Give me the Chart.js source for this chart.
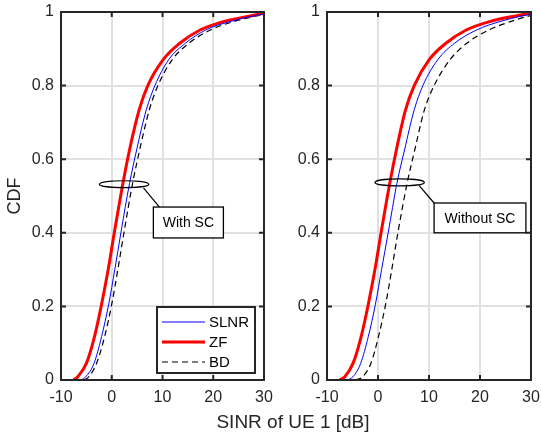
<!DOCTYPE html>
<html><head><meta charset="utf-8">
<script src="https://cdn.jsdelivr.net/npm/chart.js@4.4.0/dist/chart.umd.min.js"></script>
<style>
html,body{margin:0;padding:0;background:#fff;}
#wrap{position:relative;width:541px;height:438px;overflow:hidden;font-family:"Liberation Sans",Arial,sans-serif;}
canvas{position:absolute;top:0;}
#c1{left:0;}
#c2{left:270px;}
#xl{position:absolute;left:143px;width:300px;top:411px;text-align:center;font-size:19px;line-height:22px;color:#262626;}
</style></head>
<body>
<div id="wrap">
<canvas id="c1" width="292" height="438"></canvas>
<canvas id="c2" width="271" height="438"></canvas>
<div id="xl">SINR of UE 1 [dB]</div>
</div>
<script>
// ---- data ----
const cdfLevels = [0, 0.009, 0.045, 0.118, 0.206, 0.3, 0.4, 0.534, 0.625, 0.734, 0.8, 0.87, 0.915, 0.951, 0.974, 0.99, 0.997];
const seriesNames = ['SLNR', 'ZF', 'BD'];
// SINR [dB] of UE 1 at each CDF level, with SC
const withSC_SLNR = [-6.0, -5.1, -3.5, -2.0, -0.6, 0.6, 1.8, 3.5, 4.9, 6.8, 8.5, 11.2, 14.5, 18.5, 23.3, 28.2, 31];
const withSC_ZF   = [-7.5, -6.7, -5.0, -3.4, -2.0, -0.7, 0.5, 2.2, 3.5, 5.4, 7.1, 10.1, 13.4, 17.4, 22.0, 27.5, 30];
const withSC_BD   = [-5.4, -4.5, -3.0, -1.4, 0.0, 1.2, 2.4, 4.1, 5.5, 7.4, 9.1, 11.9, 15.2, 19.4, 24.0, 28.8, 32];
// without SC
const noSC_SLNR = [-6.0, -4.9, -3.4, -1.9, -0.5, 0.7, 2.0, 3.7, 5.2, 7.1, 8.8, 11.7, 15.0, 19.3, 23.9, 28.5, 31];
const noSC_ZF   = [-7.5, -6.5, -4.9, -3.3, -1.9, -0.6, 0.6, 2.3, 3.6, 5.4, 7.1, 10.0, 13.3, 17.3, 21.9, 27.2, 30];
const noSC_BD   = [-4.4, -3.0, -1.4, 0.1, 1.5, 2.7, 3.9, 5.7, 7.2, 9.1, 11.0, 14.1, 17.4, 21.7, 26.0, 30.0, 34];
const xTicks = [-10, 0, 10, 20, 30];
const xTickLabels = ['-10', '0', '10', '20', '30'];
const yTicks = [0, 0.2, 0.4, 0.6, 0.8, 1];
const yTickLabels = ['0', '0.2', '0.4', '0.6', '0.8', '1'];
const yTitle = 'CDF';
const noteLeft = 'With SC';
const noteRight = 'Without SC';

// ---- styles ----
const FONT = '"Liberation Sans", Arial, sans-serif';
const AX = '#262626';
const styles = [
  {borderColor:'#0000ff', borderWidth:1, borderDash:[]},
  {borderColor:'#ff0000', borderWidth:3, borderDash:[]},
  {borderColor:'#000000', borderWidth:1.2, borderDash:[6,4]}
];

function mkDatasets(arrs){
  return arrs.map((xs,k)=>Object.assign({
    label: seriesNames[k],
    data: xs.map((x,i)=>({x:x, y:cdfLevels[i]})),
    pointRadius:0, fill:false, cubicInterpolationMode:'monotone'
  }, styles[k]));
}

const framePlugin = {
  id:'frame',
  afterDatasetsDraw(chart){
    const {ctx, chartArea:ca, scales} = chart;
    ctx.save();
    ctx.strokeStyle = AX; ctx.lineWidth = 2;
    ctx.strokeRect(ca.left, ca.top, ca.right-ca.left, ca.bottom-ca.top);
    ctx.beginPath();
    xTicks.forEach(v=>{
      const p = scales.x.getPixelForValue(v);
      ctx.moveTo(p, ca.bottom); ctx.lineTo(p, ca.bottom-5);
      ctx.moveTo(p, ca.top); ctx.lineTo(p, ca.top+5);
    });
    yTicks.forEach(v=>{
      const p = scales.y.getPixelForValue(v);
      ctx.moveTo(ca.left, p); ctx.lineTo(ca.left+5, p);
      ctx.moveTo(ca.right, p); ctx.lineTo(ca.right-5, p);
    });
    ctx.stroke();
    ctx.restore();
  }
};

const notePlugin = {
  id:'note',
  afterDraw(chart, args, opts){
    const {ctx, scales:{x, y}} = chart;
    const n = opts;
    if (!n || !n.text) return;
    ctx.save();
    const cx = x.getPixelForValue(n.ex), cy = y.getPixelForValue(n.ey);
    const rx = Math.abs(x.getPixelForValue(n.ex + n.erx) - cx);
    const ry = Math.abs(y.getPixelForValue(n.ey + n.ery) - cy);
    ctx.strokeStyle = '#000'; ctx.lineWidth = 1.2;
    ctx.beginPath(); ctx.ellipse(cx, cy, rx, ry, 0, 0, Math.PI*2); ctx.stroke();
    ctx.beginPath();
    ctx.moveTo(x.getPixelForValue(n.l0[0]), y.getPixelForValue(n.l0[1]));
    ctx.lineTo(x.getPixelForValue(n.l1[0]), y.getPixelForValue(n.l1[1]));
    ctx.stroke();
    const bx0 = x.getPixelForValue(n.box[0]), bx1 = x.getPixelForValue(n.box[1]);
    const by0 = y.getPixelForValue(n.box[2]), by1 = y.getPixelForValue(n.box[3]);
    ctx.fillStyle = '#fff';
    ctx.fillRect(bx0, by0, bx1-bx0, by1-by0);
    ctx.lineWidth = 1.3;
    ctx.strokeRect(bx0, by0, bx1-bx0, by1-by0);
    ctx.fillStyle = '#000';
    ctx.font = '14px ' + FONT;
    ctx.textAlign = 'center'; ctx.textBaseline = 'middle';
    ctx.fillText(n.text, (bx0+bx1)/2, (by0+by1)/2 + 1);
    ctx.restore();
  }
};

const legendPlugin = {
  id:'boxLegend',
  afterDraw(chart, args, opts){
    if (!opts || !opts.show) return;
    const {ctx, chartArea:ca} = chart;
    const L = ca.left + 96, R = ca.right - 9, T = ca.bottom - 73, B = ca.bottom - 7;
    ctx.save();
    ctx.fillStyle = '#fff'; ctx.fillRect(L, T, R-L, B-T);
    ctx.strokeStyle = AX; ctx.lineWidth = 2; ctx.strokeRect(L, T, R-L, B-T);
    ctx.font = '15px ' + FONT; ctx.textAlign = 'left'; ctx.textBaseline = 'middle';
    chart.data.datasets.forEach((ds, i)=>{
      const yy = T + 15 + i*20;
      ctx.strokeStyle = ds.borderColor; ctx.lineWidth = ds.borderWidth;
      ctx.setLineDash(ds.borderDash || []);
      ctx.beginPath(); ctx.moveTo(L+5, yy); ctx.lineTo(L+48, yy); ctx.stroke();
      ctx.setLineDash([]);
      ctx.fillStyle = '#000';
      ctx.fillText(ds.label, L+52, yy+1);
    });
    ctx.restore();
  }
};

function makeChart(id, arrs, yW, rightPad, showTitle, showLegend, note){
  return new Chart(document.getElementById(id), {
    type:'line',
    data:{datasets: mkDatasets(arrs)},
    plugins:[framePlugin, notePlugin, legendPlugin],
    options:{
      responsive:false, animation:false, devicePixelRatio:1,
      layout:{padding:{top:12, right:rightPad, left:0, bottom:0}},
      plugins:{legend:{display:false}, tooltip:{enabled:false}, note:note, boxLegend:{show:showLegend}},
      scales:{
        x:{type:'linear', min:-10, max:30,
          afterBuildTicks:s=>{s.ticks = xTicks.map(v=>({value:v}));},
          ticks:{font:{family:FONT, size:16}, color:AX, padding:8, maxRotation:0, autoSkip:false,
                 callback:(v,i)=>xTickLabels[i]},
          grid:{color:'#e1e1e1', lineWidth:2, drawTicks:false},
          border:{display:false},
          afterFit:s=>{s.height = 58; s.paddingLeft = 0; s.paddingRight = 0;}
        },
        y:{type:'linear', min:0, max:1,
          afterBuildTicks:s=>{s.ticks = yTicks.map(v=>({value:v}));},
          ticks:{font:{family:FONT, size:16}, color:AX, padding:7, autoSkip:false,
                 callback:(v,i)=>yTickLabels[i]},
          grid:{color:'#e1e1e1', lineWidth:2, drawTicks:false},
          border:{display:false},
          title:{display:showTitle, text:yTitle, color:AX, font:{family:FONT, size:18}, padding:{top:4, bottom:0}},
          afterFit:s=>{s.width = yW; s.paddingTop = 0; s.paddingBottom = 0;}
        }
      }
    }
  });
}

makeChart('c1', [withSC_SLNR, withSC_ZF, withSC_BD], 61, 28, true, true,
  {text:noteLeft, ex:2.44, ey:0.532, erx:4.87, ery:0.0095, l0:[6.25,0.522], l1:[9.4,0.470], box:[8.2,22.0,0.470,0.386]});
makeChart('c2', [noSC_SLNR, noSC_ZF, noSC_BD], 57, 10, false, false,
  {text:noteRight, ex:4.25, ey:0.537, erx:4.84, ery:0.0095, l0:[8.04,0.529], l1:[11.0,0.481], box:[11.0,29.0,0.481,0.400]});
</script>
</body></html>
